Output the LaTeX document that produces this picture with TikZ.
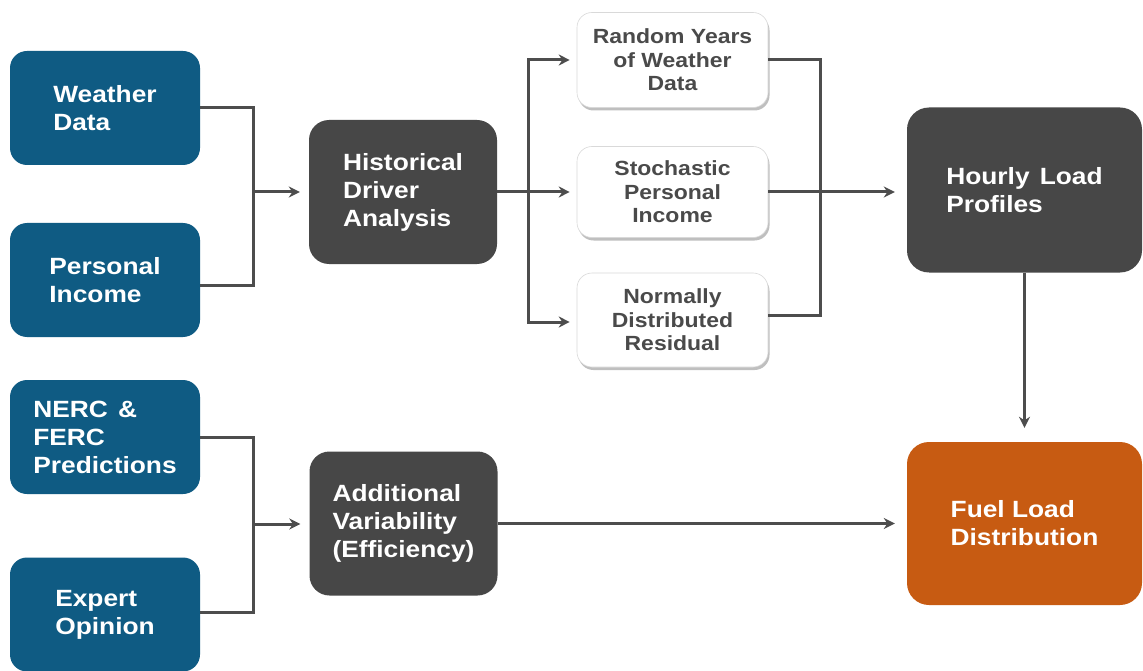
\documentclass[tikz,border=0pt]{standalone}
\usepackage{fontspec}
\setmainfont{Liberation Sans}[FakeStretch=1.12]
\usetikzlibrary{arrows.meta,shadows}
\definecolor{cblue}{HTML}{0F5B83}
\definecolor{cdark}{HTML}{474747}
\definecolor{corange}{HTML}{C75B12}
\definecolor{cline}{HTML}{4D4D4D}
\definecolor{ctext}{HTML}{4A4A4A}
\definecolor{cborder}{HTML}{D9D9D9}
\begin{document}
\begin{tikzpicture}[x=1pt,y=-1pt,
  base/.style={rectangle,inner sep=0pt,font=\fontsize{23.5}{28}\selectfont\bfseries,text=white,align=left},
  bluebox/.style={base,fill=cblue,rounded corners=17pt,minimum width=190pt,minimum height=114pt},
  darkbox/.style={base,fill=cdark,rounded corners=20pt,minimum width=188pt,minimum height=144pt},
  bigbox/.style={base,rounded corners=22pt,minimum width=235pt,minimum height=165pt},
  whitebox/.style={rectangle,inner sep=0pt,fill=white,draw=cborder,line width=0.6pt,rounded corners=15pt,
    minimum width=191pt,minimum height=93pt,align=center,text=ctext,
    font=\fontsize{20.5}{23.5}\selectfont\bfseries,
    drop shadow={shadow xshift=1.5pt,shadow yshift=-3pt,opacity=0.5,fill=gray}},
  conn/.style={draw=cline,line width=3pt},
  arr/.style={conn,-{Stealth[length=11pt,width=11pt]}}]
\useasboundingbox (0,0) rectangle (1143,671);
\fill[white] (0,0) rectangle (1143,671);
% left inputs
\node[bluebox] (weather) at (105,108) {Weather\\Data};
\node[bluebox] (income) at (105,280) {Personal\\Income};
\node[bluebox] (nerc) at (105,437) {NERC\hspace{0.12em} \&\\FERC\\Predictions};
\node[bluebox] (expert) at (105,614.5) {Expert\\Opinion};
% middle
\node[darkbox] (hist) at (403,192) {Historical\\Driver\\Analysis};
\node[darkbox] (add) at (403.5,523.5) {Additional\\Variability\\(Efficiency)};
% white boxes
\node[whitebox,minimum height=95pt] (rand) at (672.5,60) {Random Years\\of Weather\\Data};
\node[whitebox,minimum height=91pt] (stoch) at (672.5,192) {Stochastic\\Personal\\Income};
\node[whitebox,minimum height=94pt] (norm) at (672.5,320) {Normally\\Distributed\\Residual};
% right
\node[bigbox,fill=cdark] (hourly) at (1024.5,190) {Hourly\hspace{0.12em} Load\\Profiles};
\node[bigbox,fill=corange,minimum height=163pt] (fuel) at (1024.5,523.5) {Fuel Load\\Distribution};
% junctions
\coordinate (j1) at (253,192);
\coordinate (j3) at (253,524);
\coordinate (f) at (528,192);
\coordinate (j2) at (820,192);
% connectors
\draw[conn] (weather.east) -| (j1);
\draw[conn] ([yshift=-5pt]income.east) -| (j1);
\draw[arr,shorten >=9pt] (j1) -- (hist.west);
\draw[conn] (hist.east) -- (f);
\draw[arr,shorten >=7pt] (f) -- (stoch.west);
\draw[arr,shorten >=7pt] (f) |- (rand.west);
\draw[arr,shorten >=7pt] (f) |- ([yshift=-2pt]norm.west);
\draw[conn] (rand.east) -| (j2);
\draw[conn] ([yshift=5pt]norm.east) -| (j2);
\draw[arr,shorten >=12pt] (stoch.east) -- (stoch.east -| hourly.west);
\draw[arr,shorten >=14pt] (hourly.south) -- (fuel.north);
\draw[conn] (nerc.east) -| (j3);
\draw[conn] ([yshift=2pt]expert.east) -| (j3);
\draw[arr,shorten >=9pt] (j3) -- (j3 -| add.west);
\draw[arr,shorten >=12pt] (add.east) -- (fuel.west);
\end{tikzpicture}
\end{document}
